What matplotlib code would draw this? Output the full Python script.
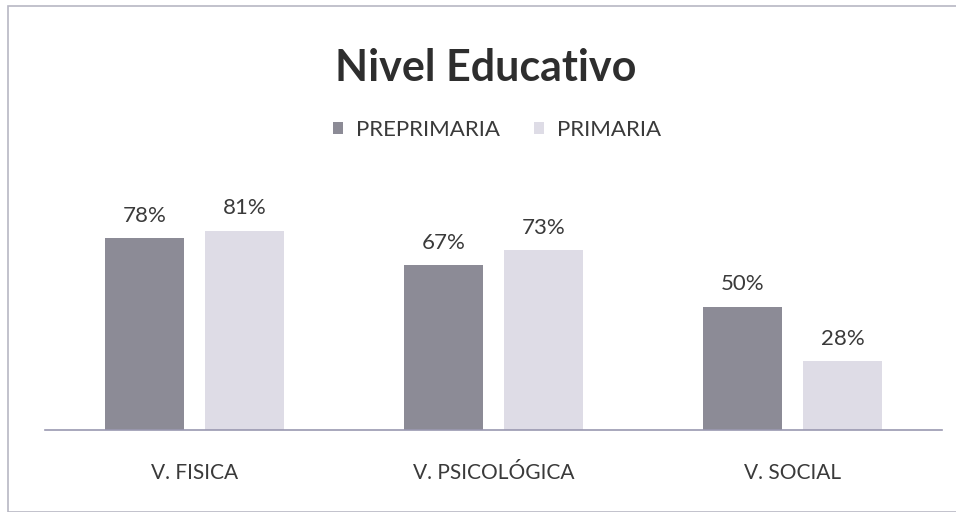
import matplotlib.pyplot as plt
from matplotlib.patches import Rectangle
import numpy as np

plt.rcParams['font.family'] = ['Lato', 'DejaVu Sans']

# data
categories = ['V. FISICA', 'V. PSICOLÓGICA', 'V. SOCIAL']
preprimaria = [78, 67, 50]
primaria = [81, 73, 28]
series_names = ['PREPRIMARIA', 'PRIMARIA']
title = 'Nivel Educativo'

dark = '#8c8b96'
light = '#dedce6'
text_col = '#3a3a3a'

fig = plt.figure(figsize=(9.56, 5.12), dpi=100)
fig.patch.set_facecolor('white')

# outer chart border
fig.patches.append(Rectangle((8 / 956, 0.0), 1.0, 1 - 6 / 512, transform=fig.transFigure,
                             fill=False, edgecolor='#b8b8c4', linewidth=1.2))

ax = fig.add_axes([45 / 956, 82 / 512, 897 / 956, 246 / 512])
x = np.arange(len(categories))
w = 0.264
off = 0.167
b1 = ax.bar(x - off, preprimaria, w, color=dark, label=series_names[0])
b2 = ax.bar(x + off, primaria, w, color=light, label=series_names[1])

for bars, vals in ((b1, preprimaria), (b2, primaria)):
    for rect, v in zip(bars, vals):
        ax.annotate(f'{v}%', (rect.get_x() + rect.get_width() / 2, v),
                    xytext=(0, 9), textcoords='offset points',
                    ha='center', va='bottom', fontsize=16, color=text_col)

ax.set_xlim(-0.5, 2.5)
ax.set_ylim(0, 100)
ax.set_yticks([])
ax.set_xticks(x)
ax.set_xticklabels(categories, fontsize=15, color=text_col)
ax.tick_params(axis='x', length=0, pad=24)
for s in ['top', 'right', 'left']:
    ax.spines[s].set_visible(False)
ax.spines['bottom'].set_color('#9a98b0')
ax.spines['bottom'].set_linewidth(1.2)

fig.text(486 / 956, 1 - 68 / 512, title, ha='center', va='center',
         fontsize=31, fontweight='bold', color='#2e2e2e')

fig.legend(handles=[b1, b2], labels=series_names, loc='center',
           bbox_to_anchor=(497 / 956, 1 - 130 / 512), ncol=2, frameon=False,
           fontsize=16, handlelength=0.45, handleheight=0.45, columnspacing=1.5,
           handletextpad=0.6, labelcolor=text_col)

plt.savefig('out.png', dpi=100)
